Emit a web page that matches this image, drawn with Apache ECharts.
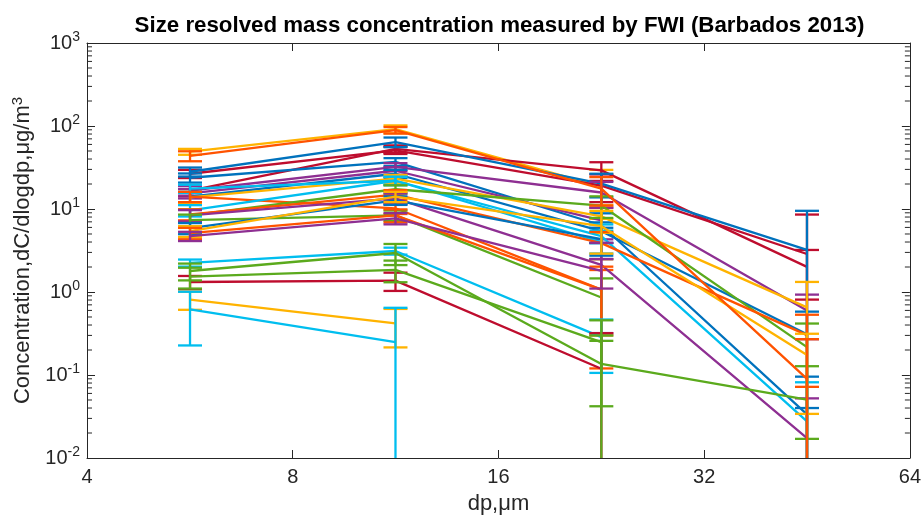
<!DOCTYPE html>
<html><head><meta charset="utf-8">
<script src="https://cdn.jsdelivr.net/npm/echarts@6/dist/echarts.min.js"></script>
<style>html,body{margin:0;padding:0;background:#fff}#c{width:924px;height:520px}</style>
</head><body><div id="c"></div>
<script>
// particle diameter positions (µm) of the four size bins
const xValues = [5.66, 11.31, 22.63, 45.25];
const xTickLabels = ['4', '8', '16', '32', '64'];
const yTickExponents = ['-2', '-1', '0', '1', '2', '3'];

// concentration values per series (4 bins) and their +/- errors
const s01 = [49, 91.6, 18.6, null],      e01 = [4, 10, 11, null];
const s02 = [43.6, 89.1, 17.6, 0.090],   e02 = [6, 8, 6.6, 0.18];
const s03 = [28.1, 64.1, 20.2, 3.21],    e03 = [3.5, 8.5, 6.4, 6.3];
const s04 = [26.6, 51, 19.1, 2.87],      e04 = [3, 5, 7, 5.7];
const s05 = [16.7, 52.9, 29.2, 2.01],    e05 = [2.5, 5.5, 7.4, 1.2];
const s06 = [23.8, 37.0, 6.37, 0.0335],  e06 = [3, 4, 2.5, 0.062];
const s07 = [16.7, 32.2, 15.8, 0.600],   e07 = [2.2, 3.5, 5.4, 0.33];
const s08 = [15.4, 28.9, 7.31, null],    e08 = [2, 3, 3, null];
const s09 = [14.1, 26.6, 5.40, 0.310],   e09 = [2, 3, 1.5, 0.27];
const s10 = [13.8, 23.2, 8.16, 0.652],   e10 = [2, 2.5, 3, 0.67];
const s11 = [17.6, 21.9, 4.71, 0.0277],  e11 = [2, 2.5, 1.8, 0.054];
const s12 = [14.1, 10.2, 1.07, null],    e12 = [2, 1.5, 0.77, null];
const s13 = [9.62, 21.9, 3.99, null],    e13 = [1.5, 2.5, 1.5, null];
const s14 = [8.39, 17.3, 11.0, 0.217],   e14 = [1.5, 2, 3.2, 0.2];
const s15 = [8.6, 14.9, 3.88, 0.302],    e15 = [1.3, 2, 1.4, 0.23];
const s16 = [8.39, 13.4, 2.12, 0.0173],  e16 = [1.3, 2, 1.8, 0.035];
const s17 = [7.36, 8.39, 0.858, null],   e17 = [1.2, 1.2, 0.6, null];
const s18 = [5.87, 12.7, 4.34, null],    e18 = [0.9, 1.5, 1.6, null];
const s19 = [5.4, 14.1, 6.20, 0.174],    e19 = [0.8, 2, 3.3, 0.14];
const s20 = [5.12, 8.39, 1.07, null],    e20 = [0.8, 1.5, 0.95, null];
const s21 = [4.71, 7.73, 1.80, null],    e21 = [0.6, 1.2, 0.7, null];
const s22 = [2.24, 3.12, 0.286, null],   e22 = [0.22, 0.3, 0.18, null];
const s23 = [1.79, 2.95, 0.136, 0.0506], e23 = [0.41, 0.84, 0.163, 0.077];
const s24 = [1.53, 1.85, 0.249, null],   e24 = [0.43, 0.54, 0.207, null];
const s25 = [1.32, 1.37, 0.119, null],   e25 = [0.24, 0.34, 0.2, null];
const s26 = [0.81, 0.42, null, null],    e26 = [0.2, 0.205, null, null];
const s27 = [0.617, 0.249, null, null],  e27 = [0.39, 0.396, null, null];

const minorTickValues = [];
[-2, -1, 0, 1, 2].forEach(function (d) {
  for (let m = 2; m <= 9; m++) minorTickValues.push(m * Math.pow(10, d));
});

const COL = {
  blue: '#0072BD', orange: '#FF5300', yellow: '#FFB300', purple: '#8E2F92',
  green: '#5BAA1D', cyan: '#00BEEF', darkred: '#BE0D2E'
};

// drawing order (later = on top)
const drawList = [
  [s01, e01, 'yellow'], [s04, e04, 'darkred'], [s05, e05, 'darkred'], [s03, e03, 'blue'],
  [s06, e06, 'blue'], [s07, e07, 'purple'], [s08, e08, 'purple'], [s09, e09, 'blue'],
  [s10, e10, 'yellow'], [s11, e11, 'cyan'], [s12, e12, 'orange'], [s13, e13, 'cyan'],
  [s14, e14, 'green'], [s15, e15, 'orange'], [s16, e16, 'purple'], [s17, e17, 'green'],
  [s18, e18, 'blue'], [s19, e19, 'yellow'], [s20, e20, 'orange'], [s21, e21, 'purple'],
  [s22, e22, 'cyan'], [s25, e25, 'darkred'], [s24, e24, 'green'], [s23, e23, 'green'],
  [s26, e26, 'yellow'], [s27, e27, 'cyan'], [s02, e02, 'orange']
];

const FONT = 'Liberation Sans, Arial, Helvetica, sans-serif';
const AX = '#262626';
const YMIN = 0.01, YMAX = 1000;
const LW = 2.3;

function errRender(params, api) {
  const x = api.value(0), v = api.value(1), e = api.value(2);
  const hi = Math.min(v + e, YMAX);
  const lo = v - e;
  const top = api.coord([x, hi]);
  const bot = api.coord([x, lo > YMIN ? lo : YMIN]);
  const cw = 12;
  const style = { stroke: api.visual('color'), lineWidth: LW };
  const ch = [
    { type: 'line', shape: { x1: top[0], y1: top[1], x2: bot[0], y2: bot[1] }, style: style },
    { type: 'line', shape: { x1: top[0] - cw, y1: top[1], x2: top[0] + cw, y2: top[1] }, style: style }
  ];
  if (lo > YMIN) ch.push({ type: 'line', shape: { x1: bot[0] - cw, y1: bot[1], x2: bot[0] + cw, y2: bot[1] }, style: style });
  return { type: 'group', children: ch };
}

function minorRender(params, api) {
  const v = api.value(0);
  const l = api.coord([4, v]);
  const r = api.coord([64, v]);
  const style = { stroke: AX, lineWidth: 1 };
  return { type: 'group', children: [
    { type: 'line', shape: { x1: l[0], y1: l[1], x2: l[0] + 5, y2: l[1] }, style: style },
    { type: 'line', shape: { x1: r[0] - 5, y1: r[1], x2: r[0], y2: r[1] }, style: style }
  ]};
}

const series = [];
drawList.forEach(function (item, i) {
  const vals = item[0], errs = item[1], c = COL[item[2]];
  const lineData = xValues.map(function (x, k) { return [x, vals[k] == null ? null : vals[k]]; });
  series.push({
    type: 'line', data: lineData, color: c, showSymbol: false, symbol: 'none',
    lineStyle: { width: LW, color: c }, connectNulls: false, z: 2 + i * 0.01, silent: true
  });
  const errData = [];
  xValues.forEach(function (x, k) { if (vals[k] != null) errData.push([x, vals[k], errs[k]]); });
  series.push({
    type: 'custom', renderItem: errRender, data: errData, color: c, itemStyle: { color: c },
    z: 2 + i * 0.01 + 0.005, silent: true
  });
});
series.push({
  type: 'custom', renderItem: minorRender, data: minorTickValues.map(function (v) { return [v]; }),
  encode: { y: 0 }, z: 1, silent: true
});

const chart = echarts.init(document.getElementById('c'), null, { renderer: 'canvas' });
const xLab = function (v) { const i = Math.round(Math.log2(v)) - 2; return xTickLabels[i] || ''; };
const yLab = function (v) { const i = Math.round(Math.log10(v)) + 2; return '{b|10}{s|' + (yTickExponents[i] || '') + '}'; };
const xBase = {
  type: 'log', logBase: 2, min: 4, max: 64,
  axisLine: { show: true, lineStyle: { color: AX, width: 1 } },
  axisTick: { show: true, inside: true, length: 8, lineStyle: { color: AX, width: 1 } },
  splitLine: { show: false }
};
const yBase = {
  type: 'log', logBase: 10, min: YMIN, max: YMAX,
  axisLine: { show: true, lineStyle: { color: AX, width: 1 } },
  axisTick: { show: true, inside: true, length: 8, lineStyle: { color: AX, width: 1 } },
  splitLine: { show: false }
};
chart.setOption({
  animation: false,
  backgroundColor: '#ffffff',
  grid: { left: 87, right: 12, top: 43, bottom: 58, containLabel: false },
  graphic: [{
    type: 'text', x: 499.5, y: 26,
    style: { text: 'Size resolved mass concentration measured by FWI (Barbados 2013)',
      font: 'bold 22.3px ' + FONT, fill: '#000', textAlign: 'center', textVerticalAlign: 'middle' }
  }],
  xAxis: [
    Object.assign({}, xBase, {
      position: 'bottom',
      axisLabel: { formatter: xLab, color: AX, fontSize: 20, fontFamily: FONT, margin: 9 },
      name: 'dp,μm', nameLocation: 'middle', nameGap: 35,
      nameTextStyle: { fontSize: 22, color: AX, fontFamily: FONT }
    }),
    Object.assign({}, xBase, { position: 'top', axisLabel: { show: false } })
  ],
  yAxis: [
    Object.assign({}, yBase, {
      position: 'left',
      axisLabel: { formatter: yLab, color: AX, margin: 7,
        rich: { b: { fontSize: 20, fontFamily: FONT, color: AX },
                s: { fontSize: 14, fontFamily: FONT, color: AX, verticalAlign: 'top', padding: [0, 0, 12, 0] } } },
      name: 'Concentration,dC/dlogdp,μg/m{s|3}', nameLocation: 'middle', nameGap: 49,
      nameTextStyle: { fontSize: 22, color: AX, fontFamily: FONT,
        rich: { s: { fontSize: 15, fontFamily: FONT, color: AX, verticalAlign: 'top', padding: [0, 0, 12, 0] } } }
    }),
    Object.assign({}, yBase, { position: 'right', axisLabel: { show: false } })
  ],
  series: series
});
</script></body></html>
